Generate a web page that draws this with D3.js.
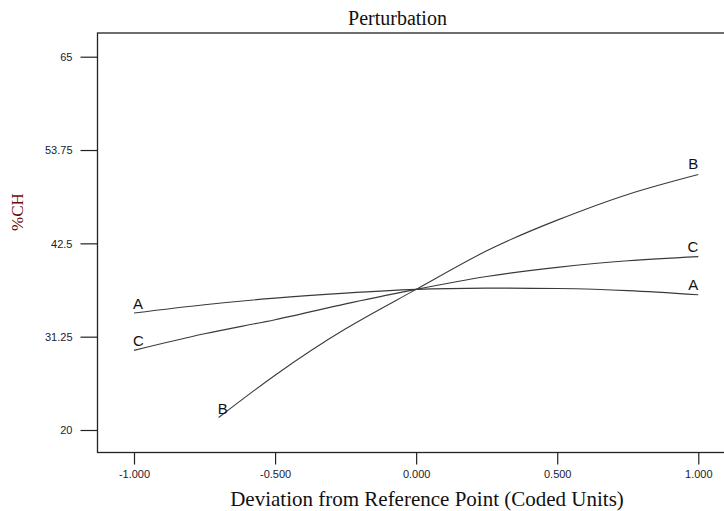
<!DOCTYPE html>
<html>
<head>
<meta charset="utf-8">
<script src="https://cdn.jsdelivr.net/npm/d3@7"></script>
<style>
  html, body { margin: 0; padding: 0; background: #fff; }
  svg { display: block; }
</style>
</head>
<body>
<svg id="chart" width="724" height="511"></svg>
<script>
// Perturbation plot: %CH response as each factor moves from the reference point
const xTicks = [-1, -0.5, 0, 0.5, 1];
const xTickLabels = ["-1.000", "-0.500", "0.000", "0.500", "1.000"];
const yTicks = [20, 31.25, 42.5, 53.75, 65];
const yTickLabels = ["20", "31.25", "42.5", "53.75", "65"];

const factorA = [
  [-1, 34.1], [-0.75, 35.1], [-0.5, 35.9], [-0.25, 36.5], [0, 36.95],
  [0.25, 37.1], [0.5, 37.05], [0.75, 36.8], [1, 36.3]
];
const factorB = [
  [-0.7, 21.5], [-0.5, 26.6], [-0.25, 32.2], [0, 36.95],
  [0.25, 41.6], [0.5, 45.3], [0.75, 48.4], [1, 50.8]
];
const factorC = [
  [-1, 29.6], [-0.75, 31.6], [-0.5, 33.3], [-0.25, 35.2], [0, 36.95],
  [0.25, 38.5], [0.5, 39.6], [0.75, 40.4], [1, 40.9]
];
const seriesNames = ["A", "B", "C"];

const svg = d3.select("#chart");
const frame = { left: 97.5, top: 33, bottom: 452.5, right: 730 };

const x = d3.scaleLinear().domain([-1, 1]).range([134, 698.3]);
const y = d3.scaleLinear().domain([20, 65]).range([430, 56.7]);

// plot frame
svg.append("rect")
  .attr("x", frame.left).attr("y", frame.top)
  .attr("width", frame.right - frame.left).attr("height", frame.bottom - frame.top)
  .attr("fill", "none").attr("stroke", "#222").attr("stroke-width", 1.3);

// axes
const tickFont = "'Liberation Sans', Arial, sans-serif";
const yAxis = svg.append("g")
  .attr("transform", `translate(${frame.left - 17},0)`)
  .call(d3.axisLeft(y).tickValues(yTicks).tickSize(-17).tickPadding(8)
    .tickFormat((d, i) => yTickLabels[i]));
const xAxis = svg.append("g")
  .attr("transform", `translate(0,${frame.bottom})`)
  .call(d3.axisBottom(x).tickValues(xTicks).tickSize(12).tickPadding(6)
    .tickFormat((d, i) => xTickLabels[i]));
[xAxis, yAxis].forEach(g => {
  g.select(".domain").remove();
  g.selectAll(".tick line").attr("stroke", "#222").attr("stroke-width", 1.2);
  g.selectAll(".tick text")
    .attr("font-family", tickFont).attr("font-size", 11).attr("fill", "#1a1a2e");
});
yAxis.selectAll(".tick text").attr("x", -8).attr("dy", "0.36em");

// response curves
const line = d3.line().x(d => x(d[0])).y(d => y(d[1])).curve(d3.curveNatural);
const curves = [factorA, factorB, factorC];
curves.forEach(pts => {
  svg.append("path")
    .datum(pts)
    .attr("d", line)
    .attr("fill", "none")
    .attr("stroke", "#3a3a3a")
    .attr("stroke-width", 1.1);
});

// factor labels at both ends of each curve
const labelFont = "'Liberation Sans', Arial, sans-serif";
curves.forEach((pts, i) => {
  const first = pts[0], last = pts[pts.length - 1];
  svg.append("text")
    .attr("x", x(first[0]) - 1).attr("y", y(first[1]) - 4)
    .attr("font-family", labelFont).attr("font-size", 15)
    .attr("fill", "#111")
    .text(seriesNames[i]);
  svg.append("text")
    .attr("x", x(last[0])).attr("y", y(last[1]) - 5)
    .attr("text-anchor", "end")
    .attr("font-family", labelFont).attr("font-size", 15)
    .attr("fill", "#111")
    .text(seriesNames[i]);
});

// titles
const serif = "'Liberation Serif', 'Times New Roman', serif";
svg.append("text")
  .attr("x", 397.5).attr("y", 25)
  .attr("text-anchor", "middle")
  .attr("font-family", serif).attr("font-size", 20).attr("fill", "#111")
  .text("Perturbation");
svg.append("text")
  .attr("x", 427).attr("y", 506)
  .attr("text-anchor", "middle")
  .attr("font-family", serif).attr("font-size", 21).attr("fill", "#111")
  .text("Deviation from Reference Point (Coded Units)");
svg.append("text")
  .attr("transform", "translate(23,212) rotate(-90)")
  .attr("text-anchor", "middle")
  .attr("font-family", serif).attr("font-size", 17).attr("fill", "#6b0a0a")
  .text("%CH");
</script>
</body>
</html>
